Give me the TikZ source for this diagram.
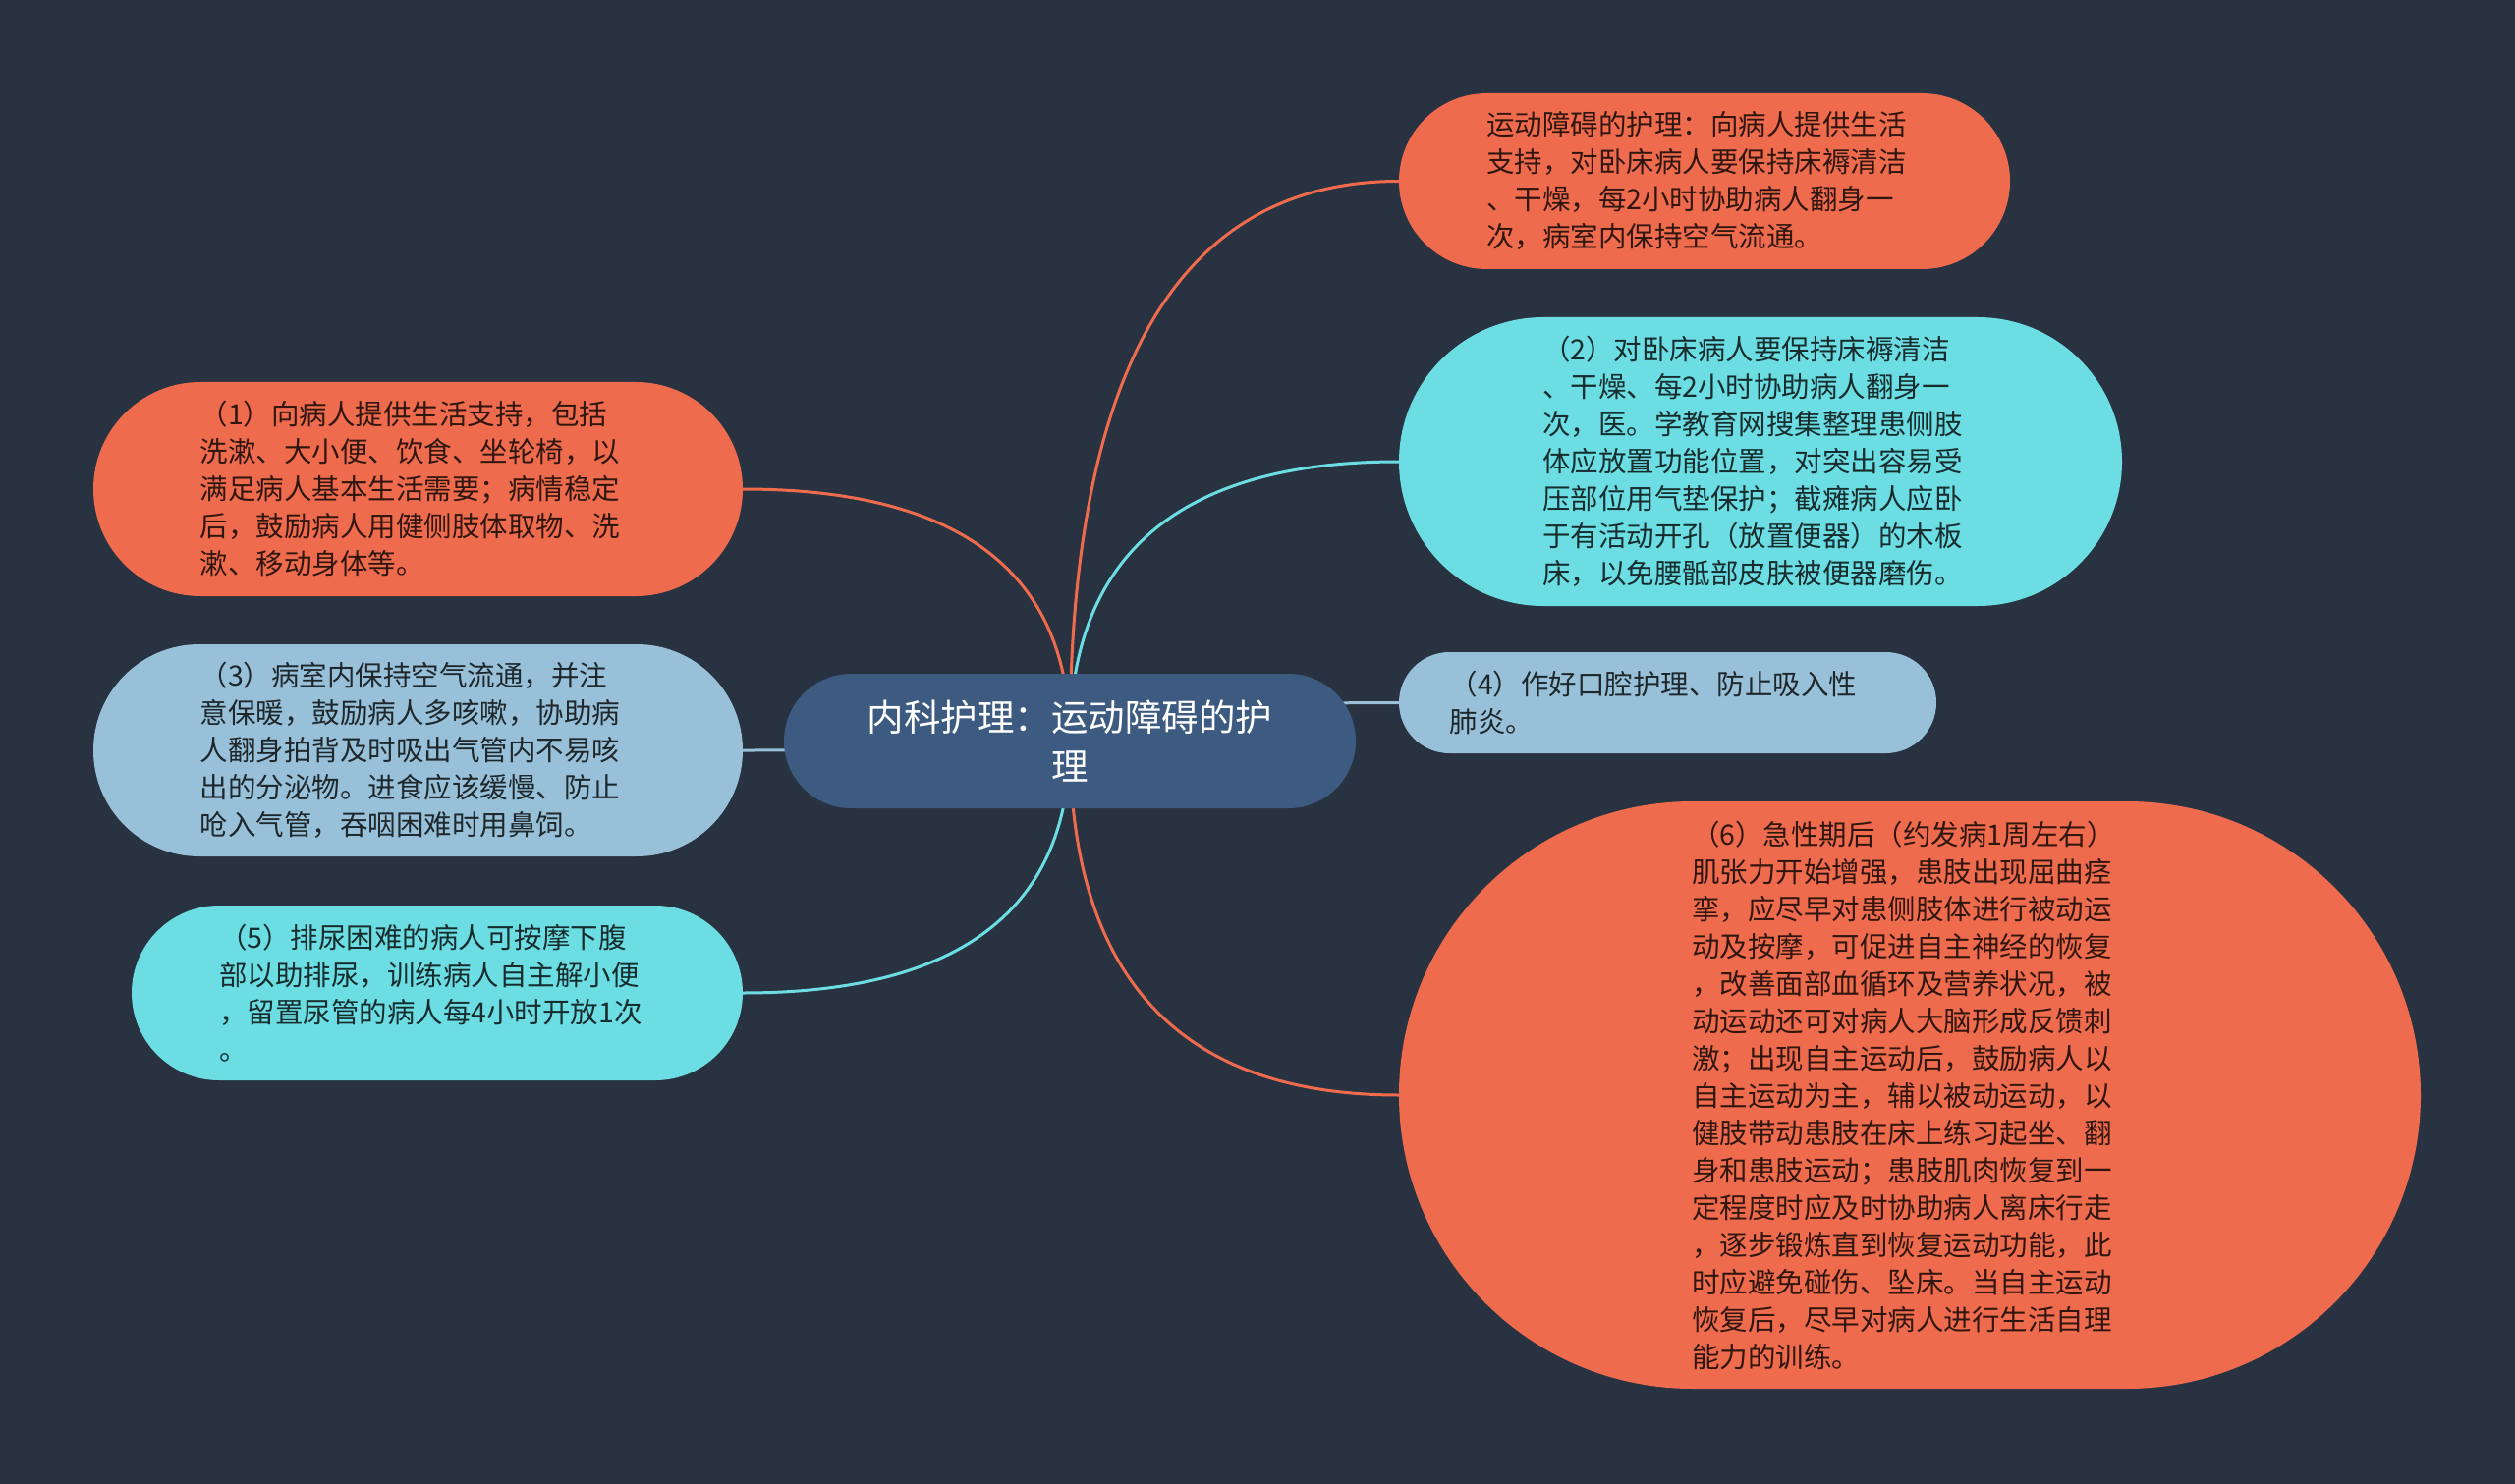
\documentclass[tikz,border=0pt]{standalone}
\usepackage{fontspec}
\setmainfont{Noto Sans CJK SC}
\usetikzlibrary{calc,backgrounds}
\definecolor{bgc}{HTML}{293241}
\definecolor{cblue}{HTML}{3D5A80}
\definecolor{orng}{HTML}{EE6C4D}
\definecolor{lblue}{HTML}{98C1D9}
\definecolor{cyanc}{HTML}{6CDDE3}
\tikzset{
  topic/.style={inner sep=0pt, text width=444pt, align=left, font=\fontsize{28.5}{38}\selectfont},
  orangebox/.style={topic, fill=orng, text=black!80!orng},
  cyanbox/.style={topic, fill=cyanc, text=black!80!cyanc},
  bluebox/.style={topic, fill=lblue, text=black!80!lblue},
  rootbox/.style={inner sep=0pt, align=center, fill=cblue, text=white, font=\fontsize{37.5}{50}\selectfont},
  link/.style={line width=3pt}
}
\begin{document}
\begin{tikzpicture}[x=1pt,y=-1pt]
\useasboundingbox (0,0) rectangle (2560,1511);

\node[rootbox, minimum width=582pt, minimum height=137pt, rounded corners=68.5pt] (c) at (1089,754.5)
  {内科护理：运动障碍的护\\理};

\node[orangebox, minimum width=622pt, minimum height=179pt, rounded corners=89.5pt] (n1) at (1735,184.5)
  {运动障碍的护理：向病人提供生活\\支持，对卧床病人要保持床褥清洁\\、干燥，每2小时协助病人翻身一\\次，病室内保持空气流通。};

\node[cyanbox, minimum width=736pt, minimum height=294pt, rounded corners=147pt] (n2) at (1792,470)
  {（2）对卧床病人要保持床褥清洁\\、干燥、每2小时协助病人翻身一\\次，医。学教育网搜集整理患侧肢\\体应放置功能位置，对突出容易受\\压部位用气垫保护；截瘫病人应卧\\于有活动开孔（放置便器）的木板\\床，以免腰骶部皮肤被便器磨伤。};

\node[bluebox, minimum width=547pt, minimum height=103pt, rounded corners=51.5pt] (n4) at (1697.5,715.5)
  {（4）作好口腔护理、防止吸入性\\肺炎。};

\node[orangebox, minimum width=1040pt, minimum height=598pt, rounded corners=299pt] (n6) at (1944,1115)
  {（6）急性期后（约发病1周左右）\\肌张力开始增强，患肢出现屈曲痉\\挛，应尽早对患侧肢体进行被动运\\动及按摩，可促进自主神经的恢复\\，改善面部血循环及营养状况，被\\动运动还可对病人大脑形成反馈刺\\激；出现自主运动后，鼓励病人以\\自主运动为主，辅以被动运动，以\\健肢带动患肢在床上练习起坐、翻\\身和患肢运动；患肢肌肉恢复到一\\定程度时应及时协助病人离床行走\\，逐步锻炼直到恢复运动功能，此\\时应避免碰伤、坠床。当自主运动\\恢复后，尽早对病人进行生活自理\\能力的训练。};

\node[orangebox, minimum width=661pt, minimum height=218pt, rounded corners=109pt] (l1) at (425.5,498)
  {（1）向病人提供生活支持，包括\\洗漱、大小便、饮食、坐轮椅，以\\满足病人基本生活需要；病情稳定\\后，鼓励病人用健侧肢体取物、洗\\漱、移动身体等。};

\node[bluebox, minimum width=661pt, minimum height=216pt, rounded corners=108pt] (l3) at (425.5,764)
  {（3）病室内保持空气流通，并注\\意保暖，鼓励病人多咳嗽，协助病\\人翻身拍背及时吸出气管内不易咳\\出的分泌物。进食应该缓慢、防止\\呛入气管，吞咽困难时用鼻饲。};

\node[cyanbox, minimum width=622pt, minimum height=178pt, rounded corners=89pt] (l5) at (445,1011)
  {（5）排尿困难的病人可按摩下腹\\部以助排尿，训练病人自主解小便\\，留置尿管的病人每4小时开放1次\\。};

\begin{scope}[on background layer]
  \fill[bgc] (0,0) rectangle (2560,1511);
  \foreach \t/\a/\col in {n1/west/orng, n2/west/cyanc, n4/west/lblue, n6/west/orng, l1/east/orng, l3/east/lblue, l5/east/cyanc} {
    \coordinate (k) at (c.center |- \t.\a);
    \draw[link,\col] (c.center) .. controls ($(c.center)!0.6667!(k)$) and ($(\t.\a)!0.6667!(k)$) .. (\t.\a);
  }
\end{scope}
\end{tikzpicture}
\end{document}
